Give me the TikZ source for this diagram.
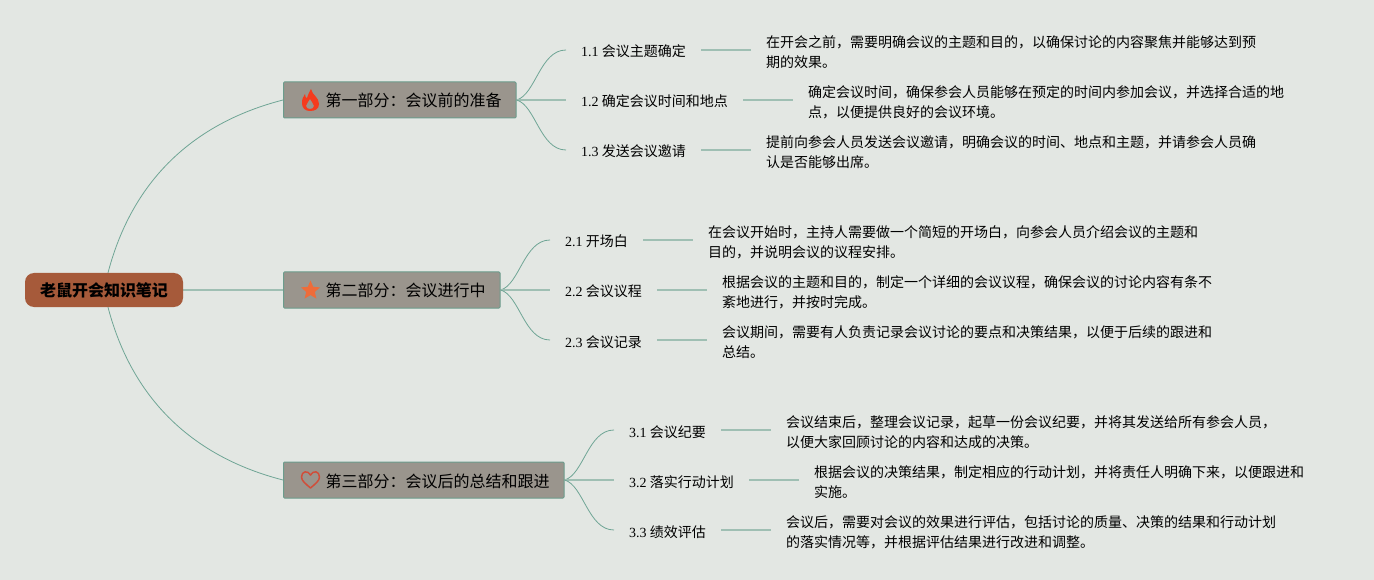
\documentclass[tikz,border=0pt]{standalone}
\usepackage{fontspec}
\setmainfont{Noto Sans CJK SC}
\newfontfamily\numfont{Liberation Serif}
\usepackage{xcolor}
\usepackage{tikz}
\usetikzlibrary{positioning}
\usetikzlibrary{shapes.geometric}
\usetikzlibrary{backgrounds}
\definecolor{paper}{HTML}{E3E7E3}
\definecolor{rootfill}{HTML}{A65A3A}
\definecolor{partfill}{HTML}{9A958D}
\definecolor{partedge}{HTML}{6B9C8C}
\definecolor{curveline}{HTML}{6FA595}
\definecolor{stemline}{HTML}{9FBFB3}
\definecolor{fireicon}{HTML}{F53B1E}
\definecolor{staricon}{HTML}{EE6C3A}
\definecolor{hearticon}{HTML}{D04E3A}
\tikzset{
  rootbox/.style={fill=rootfill,rounded corners=9pt,minimum width=158pt,minimum height=34pt,inner sep=0pt,text height=15pt,text depth=1pt,font=\fontsize{16}{20}\selectfont\bfseries},
  partbox/.style={fill=partfill,draw=partedge,line width=1pt,rounded corners=1pt,anchor=west,minimum height=36pt,inner xsep=14.5pt,inner ysep=0pt,text height=15pt,text depth=1pt,font=\fontsize{16}{20}\selectfont,execute at begin node=\hspace*{27.5pt}},
  topicbox/.style={anchor=west,inner xsep=15pt,inner ysep=0pt,text height=14pt,text depth=0pt,font=\fontsize{14}{20}\selectfont},
  notebox/.style={right=50pt of #1,yshift=-2pt,inner xsep=15pt,inner ysep=0pt,align=left,font=\fontsize{14}{20}\selectfont},
  curve/.style={curveline,line width=.8pt},
  stem/.style={stemline,line width=1.5pt},
}
\begin{document}
\begin{tikzpicture}[x=1pt,y=-1pt]
\useasboundingbox (0,0) rectangle (1374,580);
% main nodes
\node[rootbox] (root) at (104,290) {老鼠开会知识笔记};
\node[partbox] (p1) at (283,100) {第一部分：会议前的准备};
\node[partbox] (p2) at (283,290) {第二部分：会议进行中};
\node[partbox] (p3) at (283,480) {第三部分：会议后的总结和跟进};
% part one
\node[topicbox] (t11) at (566,50) {{\numfont 1.1} 会议主题确定};
\node[topicbox] (t12) at (566,100) {{\numfont 1.2} 确定会议时间和地点};
\node[topicbox] (t13) at (566,150) {{\numfont 1.3} 发送会议邀请};
\node[notebox=t11] (n11) {在开会之前，需要明确会议的主题和目的，以确保讨论的内容聚焦并能够达到预\\期的效果。};
\node[notebox=t12] (n12) {确定会议时间，确保参会人员能够在预定的时间内参加会议，并选择合适的地\\点，以便提供良好的会议环境。};
\node[notebox=t13] (n13) {提前向参会人员发送会议邀请，明确会议的时间、地点和主题，并请参会人员确\\认是否能够出席。};
% part two
\node[topicbox] (t21) at (550,240) {{\numfont 2.1} 开场白};
\node[topicbox] (t22) at (550,290) {{\numfont 2.2} 会议议程};
\node[topicbox] (t23) at (550,340) {{\numfont 2.3} 会议记录};
\node[notebox=t21] (n21) {在会议开始时，主持人需要做一个简短的开场白，向参会人员介绍会议的主题和\\目的，并说明会议的议程安排。};
\node[notebox=t22] (n22) {根据会议的主题和目的，制定一个详细的会议议程，确保会议的讨论内容有条不\\紊地进行，并按时完成。};
\node[notebox=t23] (n23) {会议期间，需要有人负责记录会议讨论的要点和决策结果，以便于后续的跟进和\\总结。};
% part three
\node[topicbox] (t31) at (614,430) {{\numfont 3.1} 会议纪要};
\node[topicbox] (t32) at (614,480) {{\numfont 3.2} 落实行动计划};
\node[topicbox] (t33) at (614,530) {{\numfont 3.3} 绩效评估};
\node[notebox=t31] (n31) {会议结束后，整理会议记录，起草一份会议纪要，并将其发送给所有参会人员，\\以便大家回顾讨论的内容和达成的决策。};
\node[notebox=t32] (n32) {根据会议的决策结果，制定相应的行动计划，并将责任人明确下来，以便跟进和\\实施。};
\node[notebox=t33] (n33) {会议后，需要对会议的效果进行评估，包括讨论的质量、决策的结果和行动计划\\的落实情况等，并根据评估结果进行改进和调整。};
% icons
\fill[fireicon,even odd rule] (311,89) .. controls (312,95) and (319,97) .. (319,104) .. controls (319,109) and (315,111) .. (310,111) .. controls (305,111) and (302,108) .. (302,103) .. controls (302,99) and (303,97) .. (305,94) .. controls (305,97) and (306,98) .. (307,98) .. controls (308,95) and (309,92) .. (311,89) -- cycle (310,99) .. controls (309,102) and (306,103) .. (306,106) .. controls (306,108) and (308,109) .. (310,109) .. controls (312,109) and (314,108) .. (314,106) .. controls (314,103) and (311,102) .. (310,99) -- cycle;
\node[star,star points=5,star point ratio=2.2,fill=staricon,minimum size=20pt,inner sep=0pt] (icon2) at (310.5,290.5) {};
\draw[hearticon,line width=1.5pt,line join=round] (310.5,488) .. controls (306,484) and (301.5,481) .. (301.5,477) .. controls (301.5,471) and (308,470) .. (310.5,475) .. controls (313,470) and (319.5,471) .. (319.5,477) .. controls (319.5,481) and (315,484) .. (310.5,488) -- cycle;
% connectors
\begin{scope}[on background layer]
\fill[paper] (0,0) rectangle (1374,580);
\draw[curve] ([xshift=4pt]root.north) .. controls +(27,-103) and +(-78,20) .. (p1.west);
\draw[curve] ([xshift=4pt]root.south) .. controls +(27,103) and +(-78,-20) .. (p3.west);
\draw[stem] (root.east)--(p2.west);
\foreach \p/\a/\b/\c in {p1/t11/t12/t13,p2/t21/t22/t23,p3/t31/t32/t33} {
  \draw[curve] (\p.east) .. controls +(19,-5) and +(-26,0) .. (\a.west);
  \draw[stem] (\p.east)--(\b.west);
  \draw[curve] (\p.east) .. controls +(19,5) and +(-26,0) .. (\c.west);
}
\foreach \t/\n in {t11/n11,t12/n12,t13/n13,t21/n21,t22/n22,t23/n23,t31/n31,t32/n32,t33/n33}
  \draw[stem] (\t.east)--(\n.west |- \t.east);
\end{scope}
\end{tikzpicture}
\end{document}
